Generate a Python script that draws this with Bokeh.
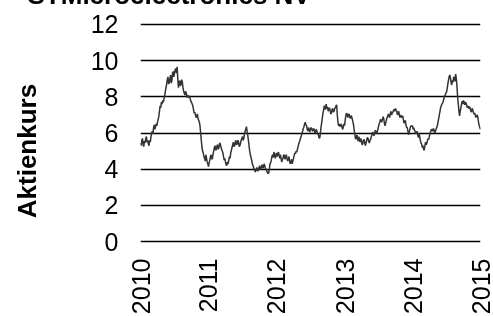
from datetime import datetime
import numpy as np
from bokeh.plotting import figure
from bokeh.models import Range1d, FixedTicker, DatetimeTickFormatter
from bokeh.embed import file_html
from bokeh.resources import INLINE

# ---- data (half-weekly closing prices, EUR) ----
title_text = "STMicroelectronics NV"
y_label = "Aktienkurs"
year_ticks = [2010, 2011, 2012, 2013, 2014, 2015]
y_ticks = [0, 2, 4, 6, 8, 10, 12]

price_2010 = [5.45, 5.3, 5.6, 5.7, 5.35, 5.25, 5.55, 5.45, 5.7, 5.8,
              5.5, 5.6, 5.4, 5.3, 5.6, 5.5, 5.8, 5.95, 6.1, 5.95,
              6.3, 6.45, 6.2, 6.35, 6.5, 6.4, 6.6, 6.75, 6.9, 7.2,
              7.5, 7.4, 7.7, 7.6, 7.8, 7.7, 7.9, 8.05, 8.3, 8.5,
              8.7, 8.95, 9.1, 8.7, 8.8, 9.0, 9.2, 8.75, 8.9, 9.3,
              9.4, 9.1, 9.3, 9.5, 9.55, 9.3, 9.65, 9.0, 8.5, 8.75,
              8.9, 8.6, 8.7, 8.95, 8.8, 8.5, 8.3, 8.2, 8.1, 8.3,
              8.2, 7.95, 8.1, 8.0, 7.95, 8.05, 7.9, 7.75, 7.7, 7.6,
              7.5, 7.3, 7.1, 7.15, 7.0, 6.85, 6.9, 7.05, 6.8, 6.7,
              6.6, 6.4, 6.0, 5.6, 5.2, 5.0, 4.9, 4.7, 4.6, 4.45,
              4.8, 4.6, 4.4, 4.3]
price_2011 = [4.15, 4.35, 4.5, 4.7, 4.8, 4.55, 4.6, 4.85, 5.0, 5.2,
              5.3, 5.05, 5.1, 5.3, 5.35, 5.1, 5.2, 5.45, 5.4, 5.25,
              5.1, 5.0, 4.9, 4.7, 4.5, 4.6, 4.4, 4.25, 4.2, 4.4,
              4.3, 4.5, 4.7, 4.6, 4.9, 5.05, 5.2, 5.35, 5.5, 5.25,
              5.3, 5.5, 5.6, 5.35, 5.4, 5.6, 5.5, 5.25, 5.3, 5.45,
              5.6, 5.7, 5.8, 5.6, 5.7, 5.95, 6.1, 6.2, 6.35, 6.1,
              5.9, 5.6, 5.3, 5.0, 4.8, 4.65, 4.5, 4.3, 4.2, 4.1,
              4.0, 3.9, 3.85, 4.0, 4.1, 3.95, 3.9, 4.05, 4.2, 4.05,
              4.0, 4.15, 4.25, 4.05, 4.1, 4.3, 4.2, 4.05, 4.0, 3.9,
              3.85, 3.75, 3.8, 4.0, 4.3, 4.35, 4.5, 4.7, 4.8, 4.65,
              4.95, 4.8, 4.6, 4.75]
price_2012 = [4.9, 4.7, 4.85, 4.95, 4.75, 4.6, 4.8, 4.6, 4.4, 4.55,
              4.6, 4.8, 4.75, 4.55, 4.7, 4.8, 4.6, 4.45, 4.55, 4.7,
              4.45, 4.3, 4.4, 4.55, 4.3, 4.45, 4.6, 4.75, 4.9, 4.85,
              5.0, 4.95, 5.1, 5.25, 5.4, 5.5, 5.6, 5.75, 5.85, 6.0,
              6.1, 6.25, 6.35, 6.5, 6.6, 6.45, 6.4, 6.2, 6.1, 6.3,
              6.2, 6.05, 6.2, 6.3, 6.25, 6.1, 6.15, 6.25, 6.15, 6.0,
              6.1, 6.2, 6.05, 5.95, 5.9, 5.75, 5.7, 5.95, 6.3, 6.55,
              6.8, 7.1, 7.25, 7.5, 7.4, 7.3, 7.6, 7.35, 7.45, 7.2,
              7.3, 7.4, 7.25, 7.05, 7.1, 7.3, 7.35, 7.15, 7.2, 7.35,
              7.4, 7.5, 7.55, 7.0, 6.6, 6.4, 6.5, 6.35, 6.4, 6.5,
              6.35, 6.2, 6.3, 6.5]
price_2013 = [6.4, 6.7, 6.95, 7.1, 7.05, 6.85, 7.0, 7.05, 6.9, 6.8,
              6.95, 6.9, 6.75, 6.6, 6.4, 6.1, 5.9, 5.65, 5.75, 5.9,
              5.65, 5.55, 5.8, 5.6, 5.5, 5.7, 5.55, 5.35, 5.4, 5.6,
              5.65, 5.45, 5.3, 5.45, 5.6, 5.75, 5.7, 5.55, 5.45, 5.6,
              5.65, 5.8, 5.9, 6.05, 6.0, 5.85, 5.95, 6.15, 6.1, 5.95,
              6.05, 6.2, 6.35, 6.5, 6.6, 6.75, 6.7, 6.6, 6.75, 6.9,
              6.8, 6.55, 6.4, 6.55, 6.7, 6.85, 6.9, 7.05, 6.95, 6.85,
              7.05, 7.2, 7.0, 7.1, 7.15, 7.25, 7.3, 7.2, 7.35, 7.25,
              7.2, 7.0, 7.1, 7.2, 6.95, 6.85, 7.0, 6.9, 6.85, 6.95,
              6.75, 6.55, 6.6, 6.7, 6.45, 6.3, 6.3, 6.1, 5.9, 6.05,
              6.2, 6.35, 6.4, 6.35]
price_2014 = [6.4, 6.2, 6.3, 6.15, 6.1, 5.95, 6.0, 6.1, 5.9, 5.75,
              6.0, 5.8, 5.6, 5.45, 5.4, 5.2, 5.3, 5.1, 5.05, 5.3,
              5.5, 5.35, 5.45, 5.6, 5.7, 5.65, 5.85, 6.0, 6.1, 6.2,
              6.2, 6.1, 6.25, 6.15, 6.0, 6.1, 6.2, 6.3, 6.4, 6.6,
              6.8, 7.0, 7.2, 7.4, 7.5, 7.6, 7.65, 7.75, 7.9, 8.0,
              8.1, 8.2, 8.25, 8.45, 8.7, 8.9, 9.1, 9.2, 9.05, 8.8,
              8.65, 8.9, 8.8, 9.1, 9.0, 8.85, 9.25, 9.0, 8.6, 8.0,
              7.6, 7.2, 6.95, 7.2, 7.4, 7.6, 7.75, 7.6, 7.8, 7.7,
              7.55, 7.7, 7.65, 7.5, 7.4, 7.5, 7.35, 7.45, 7.4, 7.25,
              7.15, 7.35, 7.3, 7.15, 7.05, 7.1, 7.0, 6.85, 6.95, 7.0,
              6.85, 6.6, 6.4, 6.3]
price_2015_start = [6.2]

prices = price_2010 + price_2011 + price_2012 + price_2013 + price_2014 + price_2015_start


def ms(dt):
    return dt.timestamp() * 1000.0


start_ms = ms(datetime(2010, 1, 1))
end_ms = ms(datetime(2015, 1, 1))
dates = np.linspace(start_ms, end_ms, len(prices))
tick_ms = [ms(datetime(y, 1, 1)) for y in year_ticks]

FONT = "Liberation Sans"

p = figure(width=485, height=363, x_axis_type="datetime",
           x_range=Range1d(start_ms, end_ms), y_range=Range1d(-0.1, 12.1),
           output_backend="svg", toolbar_location=None,
           min_border_left=131, min_border_right=13,
           min_border_top=62, min_border_bottom=80,
           styles={"position": "fixed", "top": "-40px", "left": "8px"})
p.outline_line_color = None
p.background_fill_color = "white"
p.border_fill_color = "white"

p.line(dates, prices, line_color="#333333", line_width=1.5)

# title (its upper part lies above the visible window, as in the reference)
p.title.text = title_text
p.title.text_font = FONT
p.title.text_font_size = "26px"
p.title.text_font_style = "bold"
p.title.text_color = "black"
p.title.align = "left"
p.title.offset = -113
p.title.standoff = 26

# axes
for ax in (p.xaxis[0], p.yaxis[0]):
    ax.axis_line_color = None
    ax.major_tick_line_color = None
    ax.minor_tick_line_color = None
    ax.major_tick_out = 0
    ax.major_tick_in = 0
    ax.minor_tick_out = 0
    ax.minor_tick_in = 0
    ax.major_label_text_font = FONT
    ax.major_label_text_font_size = "25px"
    ax.major_label_text_color = "black"

p.yaxis[0].ticker = FixedTicker(ticks=y_ticks)
p.yaxis[0].major_label_standoff = 22
p.yaxis[0].axis_label = y_label + "\u00a0" * 5
p.yaxis[0].axis_label_text_font = FONT
p.yaxis[0].axis_label_text_font_size = "26px"
p.yaxis[0].axis_label_text_font_style = "bold"
p.yaxis[0].axis_label_text_color = "black"
p.yaxis[0].axis_label_standoff = 46

p.xaxis[0].ticker = FixedTicker(ticks=tick_ms)
p.xaxis[0].formatter = DatetimeTickFormatter(years="%Y", months="%Y", days="%Y",
                                             hours="%Y", minutes="%Y", seconds="%Y",
                                             milliseconds="%Y")
p.xaxis[0].major_label_orientation = np.pi / 2
p.xaxis[0].major_label_standoff = 15

p.xgrid.visible = False
p.ygrid[0].ticker = FixedTicker(ticks=y_ticks)
p.ygrid.grid_line_color = "black"
p.ygrid.grid_line_width = 1.5

open("out.html", "w").write(file_html(p, INLINE))
